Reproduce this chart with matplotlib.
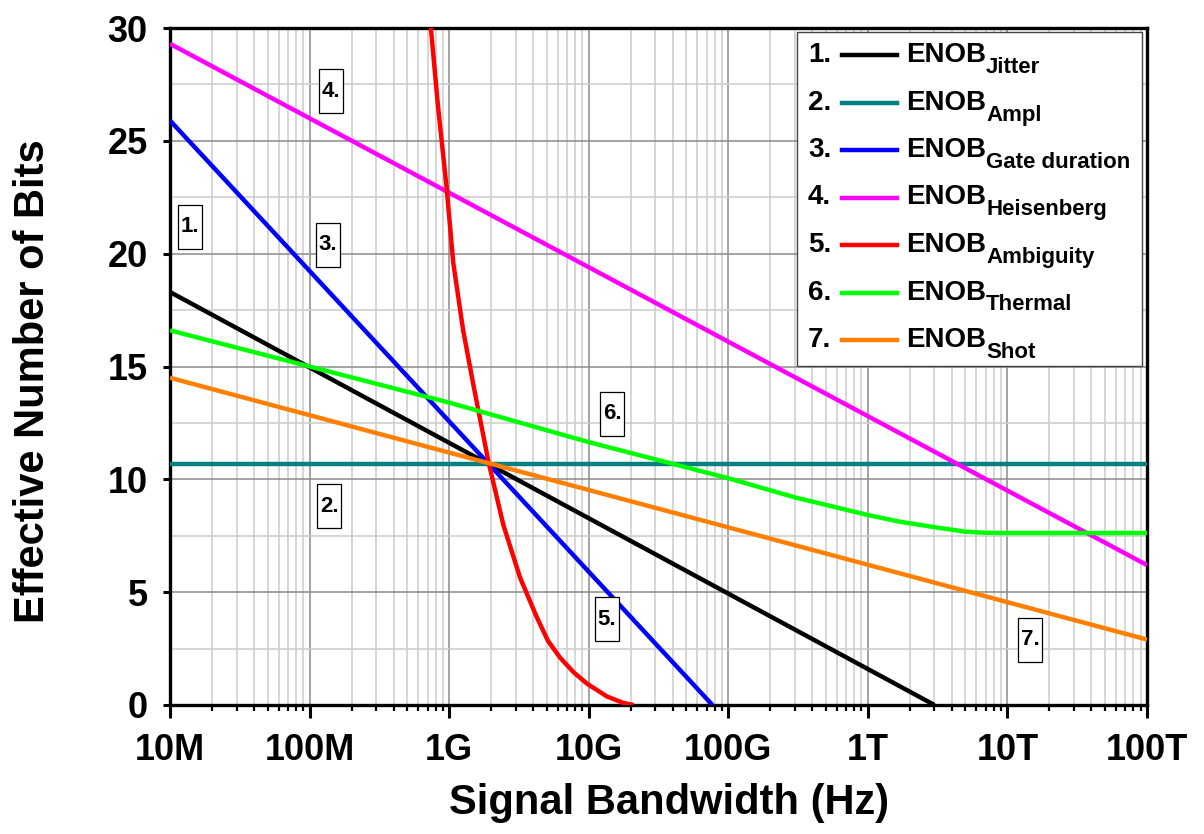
import matplotlib
matplotlib.use("Agg")
import matplotlib.pyplot as plt
import matplotlib.ticker as mticker
from matplotlib.patches import Rectangle
from matplotlib.text import Annotation
from matplotlib.transforms import ScaledTranslation

plt.rcParams["font.family"] = ["Liberation Sans", "DejaVu Sans"]
plt.rcParams["font.weight"] = "bold"

# ENOB limits vs. signal bandwidth
jitter_f = [1e7, 3.0e12]
jitter_enob = [18.3, 0.0]

ampl_f = [1e7, 1e14]
ampl_enob = [10.7, 10.7]

gate_f = [1e7, 7.7e10]
gate_enob = [25.9, 0.0]

heis_f = [1e7, 1e14]
heis_enob = [29.3, 6.2]

ambig_f = [7.0e8, 7.4e8, 8.3e8, 9.6e8, 1.07e9, 1.26e9, 1.49e9, 1.91e9, 2.44e9,
           3.22e9, 4.24e9, 5.1e9, 6.23e9, 7.8e9, 9.7e9, 1.35e10, 1.75e10, 2.1e10]
ambig_enob = [31.5, 30.0, 26.6, 22.9, 19.6, 16.6, 14.2, 10.8, 8.0,
              5.65, 3.9, 2.85, 2.1, 1.45, 0.95, 0.38, 0.1, 0.0]

thermal_f = [1e7, 1e8, 1e9, 1e10, 1e11, 3e11, 1e12, 1.7e12, 3e12, 5e12, 7e12, 1e13, 1e14]
thermal_enob = [16.6, 15.0, 13.4, 11.65, 10.05, 9.2, 8.42, 8.12, 7.88, 7.68, 7.63, 7.62, 7.62]

shot_f = [1e7, 1e14]
shot_enob = [14.5, 2.9]

series = [
    ("1.", "Jitter", "#000000", jitter_f, jitter_enob),
    ("2.", "Ampl", "#008080", ampl_f, ampl_enob),
    ("3.", "Gate duration", "#0000ff", gate_f, gate_enob),
    ("4.", "Heisenberg", "#ff00ff", heis_f, heis_enob),
    ("5.", "Ambiguity", "#ff0000", ambig_f, ambig_enob),
    ("6.", "Thermal", "#00ff00", thermal_f, thermal_enob),
    ("7.", "Shot", "#ff8000", shot_f, shot_enob),
]

# numbered tags placed next to the curves
tag_text = ["1.", "2.", "3.", "4.", "5.", "6.", "7."]
tag_f = [1.39e7, 1.38e8, 1.36e8, 1.43e8, 1.35e10, 1.47e10, 1.45e13]
tag_y = [21.2, 8.8, 20.4, 27.2, 3.8, 12.9, 2.9]

x_ticks = [1e7, 1e8, 1e9, 1e10, 1e11, 1e12, 1e13, 1e14]
x_tick_labels = ["10M", "100M", "1G", "10G", "100G", "1T", "10T", "100T"]
y_ticks = [0, 5, 10, 15, 20, 25, 30]

W, H = 1204, 834
fig = plt.figure(figsize=(W / 100, H / 100), dpi=100)
ax = fig.add_axes([170 / W, 1 - 705 / H, 977 / W, 677 / H])

for _, _, color, f, y in series:
    ax.plot(f, y, color=color, lw=3.2, solid_capstyle="butt", zorder=3)

ax.set_xscale("log")
ax.set_xlim(1e7, 1e14)
ax.set_ylim(0, 30)
ax.set_xticks(x_ticks)
ax.set_xticklabels(x_tick_labels)
ax.xaxis.set_minor_locator(mticker.LogLocator(base=10, subs=range(2, 10), numticks=100))
ax.xaxis.set_minor_formatter(mticker.NullFormatter())
ax.set_yticks(y_ticks)
ax.yaxis.set_minor_locator(mticker.MultipleLocator(2.5))

ax.grid(which="major", color="#8a8a8a", lw=1.1, zorder=0)
ax.grid(which="minor", color="#cccccc", lw=1.1, zorder=0)
ax.set_axisbelow(True)

for sp in ax.spines.values():
    sp.set_linewidth(2.4)
ax.tick_params(axis="x", which="major", length=9, width=2.2, direction="out",
               labelsize=26, pad=11)
ax.tick_params(axis="x", which="minor", length=4.5, width=1.6, direction="out")
ax.tick_params(axis="y", which="major", length=5, width=2.2, direction="out",
               labelsize=26, pad=11)
ax.tick_params(axis="y", which="minor", length=0)
for lab in ax.get_xticklabels() + ax.get_yticklabels():
    lab.set_fontweight("bold")

fig.text(669 / W, 1 - 803 / H, "Signal Bandwidth (Hz)", fontsize=30,
         fontweight="bold", ha="center", va="center")
fig.text(33 / W, 1 - 381 / H, "Effective Number of Bits", fontsize=30,
         fontweight="bold", ha="center", va="center", rotation=90)

# tag boxes: fixed pixel size around each data anchor
for t, fx, fy in zip(tag_text, tag_f, tag_y):
    tr = fig.dpi_scale_trans + ScaledTranslation(fx, fy, ax.transData)
    ax.add_patch(Rectangle((-0.12, -0.22), 0.24, 0.44, transform=tr,
                           facecolor="white", edgecolor="black", lw=0.9, zorder=5))
    ax.text(fx, fy, t, fontsize=16, fontweight="bold", ha="center",
            va="center", zorder=6)

# legend drawn by hand: number, line sample, ENOB with subscript
fig.patches.append(Rectangle((797 / W, 1 - 366 / H), 345 / W, 334 / H,
                             transform=fig.transFigure, facecolor="white",
                             edgecolor="#444444", lw=1.0, zorder=10))
for i, (num, sub, color, _, _) in enumerate(series):
    base = 62 + 47.5 * i
    mid = 55 + 47.5 * i
    fig.text(808 / W, 1 - base / H, num, fontsize=20, fontweight="bold",
             va="baseline", zorder=11)
    fig.lines.append(plt.Line2D([842 / W, 897 / W], [1 - mid / H, 1 - mid / H],
                                transform=fig.transFigure, color=color, lw=3.2,
                                zorder=11))
    main = fig.text(906 / W, 1 - base / H, "ENOB", fontsize=20,
                    fontweight="bold", va="baseline", zorder=11)
    fig.add_artist(Annotation(sub, xy=(1.0, 1 - (base + 11) / H),
                              xycoords=(main, "figure fraction"),
                              fontsize=16, fontweight="bold", va="baseline",
                              ha="left", annotation_clip=False, zorder=12))

fig.savefig("out.png", dpi=100)
